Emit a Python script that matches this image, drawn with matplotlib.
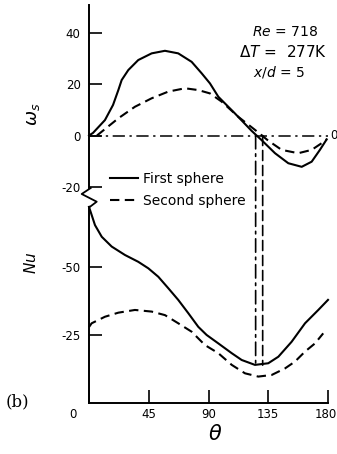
import matplotlib
matplotlib.use("Agg")
import matplotlib.pyplot as plt
from matplotlib.lines import Line2D
from matplotlib.patches import ConnectionPatch
from matplotlib.transforms import ScaledTranslation

# vorticity at the surface, first sphere
theta_w1 = [0, 3, 12.0, 18.1, 22.1, 24.6, 29.6, 37.1, 47.2, 57.2, 67.2, 77.3, 84.9, 91.1,
            97.4, 109.9, 122.5, 130.0, 140.1, 150.1, 160.2, 167.7, 173.9, 179.0]
w1 = [0, 1.0, 6.0, 11.9, 17.7, 21.6, 25.5, 29.4, 32.0, 33.0, 32.0, 28.7, 24.2, 20.3,
      15.1, 8.6, 1.8, -1.8, -6.9, -10.8, -12.2, -10.2, -5.6, -1.5]

# vorticity at the surface, second sphere
theta_w2 = [6.0, 22.1, 34.6, 47.2, 59.7, 72.3, 82.3, 91.1, 99.9, 112.4, 125.0, 135.0,
            145.1, 157.6, 167.7, 175.2, 179.0]
w2 = [0, 6.7, 11.2, 14.5, 17.1, 18.4, 17.7, 16.4, 13.2, 7.3, 2.2, -2.0,
      -5.6, -6.9, -5.6, -3.0, -1.5]

# local Nusselt number, first sphere
theta_nu1 = [0, 4.5, 9.6, 17.1, 27.1, 37.1, 44.7, 52.2, 59.7, 67.2, 74.8, 82.3, 88.6,
             97.4, 107.5, 115.0, 125.0, 135.0, 142.6, 152.6, 162.7, 172.7, 180.0]
nu1 = [72.0, 65.3, 61.0, 57.4, 54.3, 51.8, 49.4, 46.3, 42.1, 37.8, 32.9, 27.9, 24.9,
       21.8, 18.2, 15.7, 13.9, 14.5, 16.9, 22.4, 29.2, 34.1, 37.8]

# local Nusselt number, second sphere
theta_nu2 = [0, 2.0, 12.0, 22.1, 34.6, 47.2, 57.2, 67.2, 77.3, 87.3, 97.4, 107.5, 117.5,
             127.5, 137.6, 147.6, 155.1, 162.7, 170.2, 176.4]
nu2 = [27.8, 29.2, 31.6, 33.1, 34.1, 33.5, 32.2, 29.2, 26.1, 21.2, 18.2, 13.9, 10.8,
       9.6, 10.2, 12.6, 15.1, 18.8, 21.8, 25.5]

# separation angles (zero wall vorticity) and Nu where the guide lines stop
theta_sep = [125.5, 130.8]
nu_sep = [13.8, 13.8]

x_ticks = [0, 45, 90, 135, 180]
w_ticks = [-20, 0, 20, 40]
w_tick_labels = ['-20', '0', '20', '40']
nu_ticks = [25, 50]
nu_tick_labels = ['-25', '-50']

W, H = 337, 454
LW = 1.5
DASH = (4.5, 2.6)


def fig_rect(left, top, right, bottom):
    return [left / W, 1 - bottom / H, (right - left) / W, (bottom - top) / H]


def shift_label(label, dx_px):
    label.set_transform(label.get_transform()
                        + ScaledTranslation(dx_px / 100, 0, fig.dpi_scale_trans))


fig = plt.figure(figsize=(W / 100, H / 100), dpi=100)
ax_w = fig.add_axes(fig_rect(89, 5, 328, 188))
ax_nu = fig.add_axes(fig_rect(89, 207, 328, 402.7))

for ax in (ax_w, ax_nu):
    ax.set_xlim(0, 180)
    ax.patch.set_visible(False)
    for side in ('top', 'right'):
        ax.spines[side].set_visible(False)
    ax.spines['left'].set_linewidth(1.4)
    ax.tick_params(direction='in', length=9.5, width=1.2, labelsize=8.5, pad=6)

ax_w.set_ylim(-20.45, 50.84)
ax_w.spines['bottom'].set_visible(False)
ax_w.set_xticks([])
ax_w.set_yticks(w_ticks)
ax_w.set_yticklabels(w_tick_labels)

ax_nu.set_ylim(0, 71.95)
ax_nu.spines['bottom'].set_linewidth(1.4)
ax_nu.set_yticks(nu_ticks)
ax_nu.set_yticklabels(nu_tick_labels)
ax_nu.set_xticks(x_ticks)
ax_nu.set_xticklabels([str(t) for t in x_ticks])
ax_nu.tick_params(axis='x', pad=4)
# the origin label sits left of the corner, the last one is pulled in from the edge
xlabels = ax_nu.get_xticklabels()
shift_label(xlabels[0], -16)
shift_label(xlabels[-1], -2)

# wall vorticity
ax_w.axhline(0, color='k', lw=1.1, dashes=(8, 3, 1.5, 3))
ax_w.plot(theta_w1, w1, color='k', lw=LW, clip_on=False, label='First sphere')
ax_w.plot(theta_w2, w2, color='k', lw=LW, dashes=DASH, clip_on=False, label='Second sphere')
ax_w.text(181.6, 0, '0', fontsize=8.5, ha='left', va='center')

# Nusselt number
ax_nu.plot(theta_nu1, nu1, color='k', lw=LW, clip_on=False)
ax_nu.plot(theta_nu2, nu2, color='k', lw=LW, dashes=DASH, clip_on=False)

# guide lines from the zero crossings down to the Nu curves
for th, nu, ls in zip(theta_sep, nu_sep, [(0, (8, 3, 1.5, 3)), (0, (6, 3))]):
    con = ConnectionPatch(xyA=(th, 0), coordsA=ax_w.transData,
                          xyB=(th, nu), coordsB=ax_nu.transData,
                          color='k', lw=1.2, linestyle=ls)
    fig.add_artist(con)

# axis break on the left spine
zig_x = [90.7, 81.7, 96.7, 89.3]
zig_y = [188, 194, 201.7, 207.3]
fig.add_artist(Line2D([x / W for x in zig_x], [1 - y / H for y in zig_y],
                      transform=fig.transFigure, color='k', lw=1.3))

leg = ax_w.legend(loc='upper left', bbox_to_anchor=(110 / W, 1 - 172 / H),
                  bbox_transform=fig.transFigure, frameon=False, fontsize=10,
                  handlelength=2.0, handletextpad=0.35, labelspacing=0.6,
                  borderpad=0, borderaxespad=0)

# flow conditions
ax_w.text(147.5, 40.3, r'$Re$ = 718', fontsize=10, ha='center', va='center')
ax_w.text(146, 32.5, r'$\Delta T$ =  277K', fontsize=11, ha='center', va='center')
ax_w.text(143, 24.7, r'$x/d$ = 5', fontsize=10, ha='center', va='center')

ax_w.set_ylabel(r'$\omega_s$', fontsize=13)
ax_w.yaxis.set_label_coords(-0.197, 0.40)
ax_nu.set_ylabel(r'$Nu$', fontsize=11)
ax_nu.yaxis.set_label_coords(-0.209, 0.714)
ax_nu.set_xlabel(r'$\theta$', fontsize=15)
ax_nu.xaxis.set_label_coords(0.527, -0.109)

fig.text(17 / W, 1 - 402 / H, '(b)', family='DejaVu Serif', fontsize=12,
         ha='center', va='center')

fig.savefig('out.png', dpi=100)
